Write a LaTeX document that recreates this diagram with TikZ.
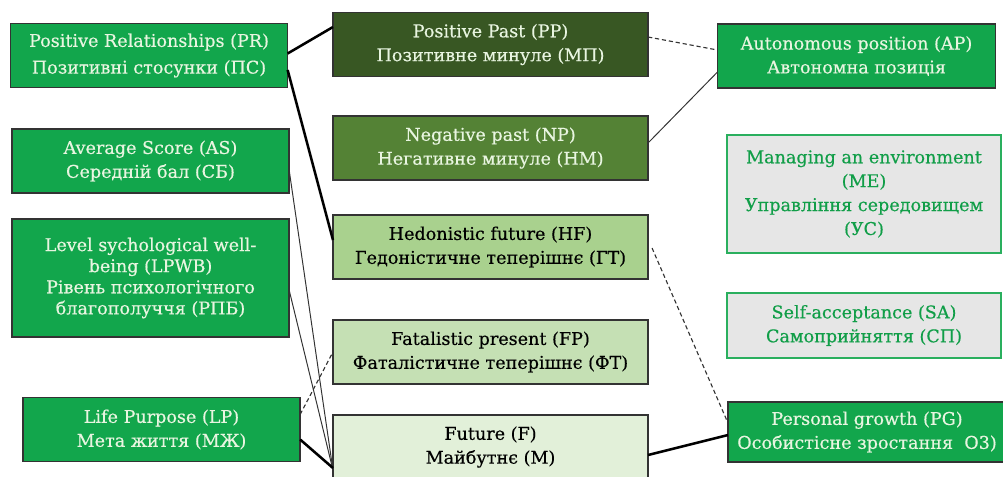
\documentclass[tikz,border=0pt]{standalone}
\usepackage{fontspec}
\setmainfont{DejaVu Serif}[FakeBold = 0.4]

\definecolor{bright}{HTML}{12A64C}
\definecolor{pastdark}{HTML}{385723}
\definecolor{pastmid}{HTML}{548235}
\definecolor{presA}{HTML}{A9D18E}
\definecolor{presB}{HTML}{C5E0B4}
\definecolor{presC}{HTML}{E2F0D9}
\definecolor{paletext}{HTML}{E8F5E0}
\definecolor{greyfill}{HTML}{E6E6E6}

\begin{document}
\begin{tikzpicture}[x = 0.025cm, y = -0.025cm, font = \fontsize{12.5}{17}\selectfont,
	box/.style = {draw = black!80, line width = 1pt, align = center, inner sep = 0pt, outer sep = 0pt, minimum height = 1.6cm},
	leftbox/.style = {box, fill = bright, text = paletext, minimum width = 6.93cm},
	midbox/.style = {box, minimum width = 7.875cm},
	rightbox/.style = {box, fill = bright, text = paletext, minimum width = 6.95cm},
	greybox/.style = {box, draw = bright!90, fill = greyfill, text = bright!95!black, minimum width = 6.85cm},
	strong/.style = {line width = 1.8pt},
	weak/.style = {line width = 0.7pt, black!80},
	dashlink/.style = {line width = 0.8pt, black!80, dash pattern = on 3pt off 2pt}]

	% Frame
	
	\useasboundingbox (0, 0) rectangle (1003, 476);
	
	% Draw left column
	
	\node [leftbox, font = \fontsize{12.5}{19}\selectfont] (PR) at (149, 55.5) {Positive Relationships (PR)\\Позитивні стосунки (ПС)};
	\node [leftbox] (AS) at (150.5, 161) {Average Score (AS)\\Середній бал (СБ)};
	\node [leftbox, minimum height = 2.95cm, font = \fontsize{12.5}{15}\selectfont] (LPWB) at (150.5, 278) {Level sychological well-\\being (LPWB)\\Рівень психологічного\\благополуччя (РПБ)};
	\node [leftbox] (LP) at (161.5, 429.5) {Life Purpose (LP)\\Мета життя (МЖ)};
	
	% Draw middle column
	
	\node [midbox, fill = pastdark, text = paletext] (PP) at (490.5, 44.5) {Positive Past (PP)\\Позитивне минуле (МП)};
	\node [midbox, fill = pastmid, text = paletext] (NP) at (490.5, 148) {Negative past (NP)\\Негативне минуле (НМ)};
	\node [midbox, fill = presA] (HF) at (490.5, 247) {Hedonistic future (HF)\\Гедоністичне теперішнє (ГТ)};
	\node [midbox, fill = presB] (FP) at (490.5, 352) {Fatalistic present (FP)\\Фаталістичне теперішнє (ФТ)};
	\node [midbox, fill = presC] (F) at (490.5, 447) {Future (F)\\Майбутнє (М)};
	
	% Draw right column
	
	\node [rightbox] (AP) at (856.5, 56) {Autonomous position (AP)\\Автономна позиція};
	\node [greybox, minimum height = 2.95cm] (ME) at (864, 194) {Managing an environment\\(ME)\\Управління середовищем\\(УС)};
	\node [greybox, minimum height = 1.625cm] (SA) at (864, 325.5) {Self-acceptance (SA)\\Самоприйняття (СП)};
	\node [rightbox, minimum height = 1.5cm] (PG) at (867, 432) {Personal growth (PG)\\Особистісне зростання~~О3)};
	
	% Draw links
	
	\draw [strong] ([shift = {(0, -2)}] PR.east) -- ([shift = {(0, -17.5)}] PP.west);
	\draw [strong] ([shift = {(0, 14.5)}] PR.east) -- ([shift = {(0, -7)}] HF.west);
	\draw [weak] ([shift = {(0, 9)}] AS.east) -- ([shift = {(0, 23)}] F.west);
	\draw [weak] ([shift = {(0, 12)}] LPWB.east) -- ([shift = {(0, 23)}] F.west);
	\draw [strong] ([shift = {(0, 10)}] LP.east) -- ([shift = {(0, 21)}] F.west);
	\draw [dashlink] ([shift = {(0, -15)}] LP.east) -- (FP.west);
	
	\draw [dashlink] ([shift = {(0, -7.5)}] PP.east) -- ([shift = {(0, -6)}] AP.west);
	\draw [weak] ([shift = {(0, -5)}] NP.east) -- ([shift = {(0, 16)}] AP.west);
	\draw [dashlink] ([shift = {(4, 1)}] HF.east) -- ([shift = {(0, -9)}] PG.west);
	\draw [strong] ([shift = {(0, 8)}] F.east) -- ([shift = {(0, 3)}] PG.west);
	
\end{tikzpicture}
\end{document}
